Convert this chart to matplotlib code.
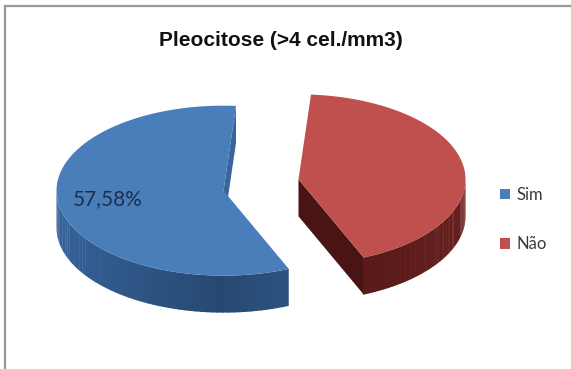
import numpy as np
import matplotlib.pyplot as plt
from matplotlib.colors import to_rgb
from matplotlib.patches import Polygon, Patch
from matplotlib.lines import Line2D

labels = ['Sim', 'Não']
values = [57.58, 42.42]
top_colors = ['#4A7EBB', '#C0504D']
side_colors = ['#2E5585', '#5A1B1B']
cut_colors = ['#3A659C', '#4A1414']
label_shown = [True, False]

W, H = 571, 369
fig = plt.figure(figsize=(W / 100, H / 100), dpi=100)
ax = fig.add_axes([0, 0, 1, 1])
ax.set_xlim(0, W)
ax.set_ylim(H, 0)
ax.axis('off')

# geometry of the tilted pie (pixel units)
cx, cy = 261, 185
rx, ry = 167, 85
depth = 37
explode = 38
first_angle = 157


def pt(theta, r, ox, oy, z=0.0):
    t = np.radians(theta)
    return ox + r * rx * np.sin(t), oy - r * ry * np.cos(t) + z


def arc(a0, a1, ox, oy, z=0.0, n=80):
    th = np.linspace(a0, a1, n)
    return [pt(t, 1.0, ox, oy, z) for t in th]


total = sum(values)
start = first_angle
for i, v in enumerate(values):
    span = 360.0 * v / total
    a0, a1 = start, start + span
    start = a1
    mid = (a0 + a1) / 2
    ox = cx + explode * np.sin(np.radians(mid))
    oy = cy - 1.8 * explode * np.cos(np.radians(mid)) * ry / rx

    # radial cut faces that turn towards the viewer
    for ang, normal in ((a0, a0 - 90), (a1, a1 + 90)):
        if np.cos(np.radians(normal)) < 0:
            c_top = (ox, oy)
            o_top = pt(ang, 1.0, ox, oy)
            o_bot = pt(ang, 1.0, ox, oy, depth)
            c_bot = (ox, oy + depth)
            ax.add_patch(Polygon([c_top, o_top, o_bot, c_bot], closed=True,
                                 facecolor=cut_colors[i], edgecolor='none'))

    # outer rim, front half only
    base = np.array(to_rgb(side_colors[i]))
    for k in (-360, 0, 360):
        lo = max(a0, 90 + k)
        hi = min(a1, 270 + k)
        if hi > lo:
            th = np.linspace(lo, hi, 60)
            for j in range(len(th) - 1):
                s = abs(np.sin(np.radians(th[j])))
                col = np.clip(base * (0.85 + 0.3 * s), 0, 1)
                q = [pt(th[j], 1.0, ox, oy), pt(th[j + 1] + 0.3, 1.0, ox, oy),
                     pt(th[j + 1] + 0.3, 1.0, ox, oy, depth), pt(th[j], 1.0, ox, oy, depth)]
                ax.add_patch(Polygon(q, closed=True, facecolor=col, edgecolor='none'))

    # top face
    ax.add_patch(Polygon([(ox, oy)] + arc(a0, a1, ox, oy), closed=True,
                         facecolor=top_colors[i], edgecolor='none'))

    if label_shown[i]:
        lx, ly = pt(mid, 0.70, ox, oy)
        ax.text(lx, ly - 1, f'{v:.2f}%'.replace('.', ','), ha='center', va='center',
                fontsize=15, color='#1E2E4C', family='Lato')

ax.text(281, 41, 'Pleocitose (>4 cel./mm3)', ha='center', va='center',
        fontsize=15, fontweight='bold', family='Liberation Sans', color='#111111')

handles = [Patch(facecolor=c, edgecolor='none') for c in top_colors]
leg = ax.legend(handles, labels, loc='center left', bbox_to_anchor=(0.875, 0.405),
                frameon=False, handlelength=0.6, handleheight=0.6,
                handletextpad=0.4, labelspacing=2.0, borderaxespad=0, borderpad=0,
                prop={'family': 'Lato', 'size': 12})
for t in leg.get_texts():
    t.set_color('#3A3A3A')

# chart frame
ax.add_line(Line2D([5, W], [6, 6], color='#9A9A9A', lw=1.6, clip_on=False))
ax.add_line(Line2D([5, 5], [6, H], color='#9A9A9A', lw=1.6, clip_on=False))

fig.savefig('out.png', dpi=100)
